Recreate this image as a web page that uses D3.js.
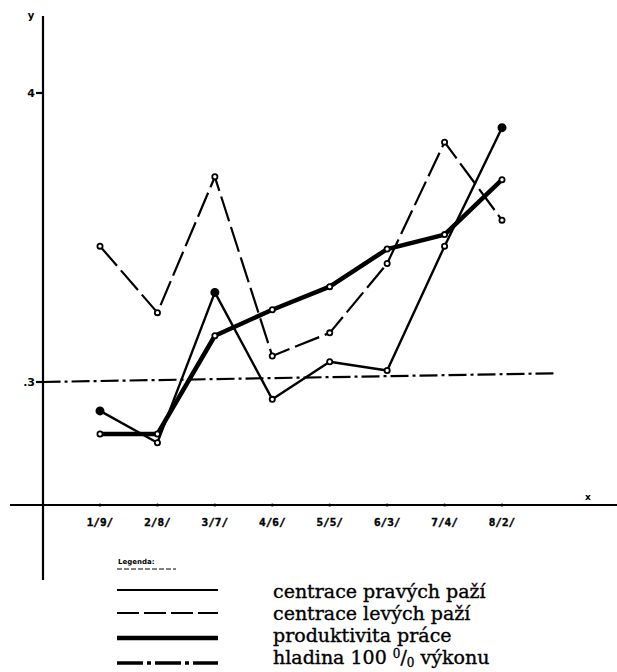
<!DOCTYPE html>
<html>
<head>
<meta charset="utf-8">
<script src="https://cdn.jsdelivr.net/npm/d3@7"></script>
<style>
	body { margin: 0; background: #fff; }
	svg { display: block; }
</style>
</head>
<body>
<div id="chart"></div>
<script>
// categories (x axis)
let categories = ["1/9/", "2/8/", "3/7/", "4/6/", "5/5/", "6/3/", "7/4/", "8/2/"];

// series values
let rightArms = [2.90, 2.79, 3.31, 2.94, 3.07, 3.04, 3.47, 3.88];
let leftArms = [3.47, 3.24, 3.71, 3.09, 3.17, 3.41, 3.83, 3.56];
let productivity = [2.82, 2.82, 3.16, 3.25, 3.33, 3.46, 3.51, 3.70];
// 100 % level, start (at y axis) and end
let levelLine = [3.00, 3.03];

// which points are drawn as full dots
let rightArmsFilled = [0, 2, 7];

let yTicks = [3, 4];
let legendLabels = [
	"centrace pravých paží",
	"centrace levých paží",
	"produktivita práce",
	"hladina 100 % výkonu"
];

let svg;
let x, y;

//
//	initD3
//
initD3 = function () {
	svg = d3.select("#chart").append("svg")
		.attr("width", 617)
		.attr("height", 672);

	svg.append("rect").attr("width", 617).attr("height", 672).attr("fill", "#fff");

	// index scale, category 0 .. 7
	x = d3.scaleLinear().domain([0, categories.length - 1]).range([100, 502]);
	y = d3.scaleLinear().domain([3, 4]).range([382, 93]);
};

//
//	drawAxes
//
drawAxes = function () {
	let axisX = 43;
	let axisY = 505;

	// y axis
	svg.append("line")
		.attr("x1", axisX).attr("x2", axisX)
		.attr("y1", 16).attr("y2", 580)
		.attr("stroke", "#000").attr("stroke-width", 2.2);
	svg.append("text").attr("x", 31).attr("y", 19)
		.attr("text-anchor", "middle")
		.attr("font-family", "DejaVu Sans").attr("font-weight", "bold").attr("font-size", 10)
		.text("y");

	yTicks.forEach((t) => {
		svg.append("line")
			.attr("x1", axisX - 7).attr("x2", axisX)
			.attr("y1", y(t)).attr("y2", y(t))
			.attr("stroke", "#000").attr("stroke-width", 2.2);
		svg.append("text")
			.attr("x", axisX - 8).attr("y", y(t) + 4)
			.attr("text-anchor", "end")
			.attr("font-family", "DejaVu Sans").attr("font-weight", "bold").attr("font-size", 11)
			.text(t == 3 ? ".3" : t);
	});

	// x axis
	svg.append("line")
		.attr("x1", 10).attr("x2", 617)
		.attr("y1", axisY).attr("y2", axisY)
		.attr("stroke", "#000").attr("stroke-width", 2);
	svg.append("text").attr("x", 588).attr("y", 500)
		.attr("text-anchor", "middle")
		.attr("font-family", "DejaVu Sans").attr("font-weight", "bold").attr("font-size", 9)
		.text("x");

	categories.forEach((c, i) => {
		svg.append("circle")
			.attr("cx", x(i)).attr("cy", axisY).attr("r", 1.6)
			.attr("fill", "#000");
		svg.append("text")
			.attr("x", x(i)).attr("y", axisY + 21)
			.attr("text-anchor", "middle")
			.attr("font-family", "DejaVu Sans Mono").attr("font-weight", "bold").attr("font-size", 11)
			.attr("stroke", "#000").attr("stroke-width", 0.4)
			.text(c);
	});
};

//
//	drawSeries
//
drawSeries = function (values, width, dash, filled) {
	let line = d3.line().x((d, i) => x(i)).y((d) => y(d));
	svg.append("path")
		.datum(values)
		.attr("d", line)
		.attr("fill", "none")
		.attr("stroke", "#000")
		.attr("stroke-width", width)
		.attr("stroke-dasharray", dash)
		.attr("stroke-linejoin", "round");

	svg.selectAll(null)
		.data(values)
		.enter()
		.append("circle")
		.attr("cx", (d, i) => x(i))
		.attr("cy", (d) => y(d))
		.attr("r", (d, i) => (filled.includes(i) ? 3.6 : 2.6))
		.attr("fill", (d, i) => (filled.includes(i) ? "#000" : "#fff"))
		.attr("stroke", "#000")
		.attr("stroke-width", 1.8);
};

//
//	drawLevel
//
drawLevel = function () {
	let xs = [-1, 7.9];
	svg.append("line")
		.attr("x1", x(xs[0])).attr("x2", x(xs[1]))
		.attr("y1", y(levelLine[0])).attr("y2", y(levelLine[1]))
		.attr("stroke", "#000")
		.attr("stroke-width", 2.2)
		.attr("stroke-dasharray", "18,4,3,4");
};

//
//	drawLegend
//
drawLegend = function () {
	svg.append("text").attr("x", 118).attr("y", 564)
		.attr("font-family", "DejaVu Sans").attr("font-weight", "bold").attr("font-size", 7)
		.text("Legenda:");
	svg.append("line")
		.attr("x1", 117).attr("x2", 176).attr("y1", 569).attr("y2", 569)
		.attr("stroke", "#000").attr("stroke-width", 1).attr("stroke-dasharray", "5,2");

	let styles = [
		{ w: 2, dash: null, y: 590 },
		{ w: 2, dash: "22,5", y: 613 },
		{ w: 4.5, dash: null, y: 638 },
		{ w: 3.5, dash: "26,4,4,4", y: 663 }
	];
	styles.forEach((s) => {
		svg.append("line")
			.attr("x1", 117).attr("x2", 218).attr("y1", s.y).attr("y2", s.y)
			.attr("stroke", "#000").attr("stroke-width", s.w)
			.attr("stroke-dasharray", s.dash);
	});

	legendLabels.forEach((t, i) => {
		let txt = svg.append("text")
			.attr("x", 273).attr("y", 598 + i * 22)
			.attr("font-family", "DejaVu Serif").attr("font-size", 19)
			.attr("fill", "#000").attr("stroke", "#000").attr("stroke-width", 0.35);
		if (t.includes("%")) {
			txt.append("tspan").text("hladina 100 ");
			txt.append("tspan").attr("font-size", 12).attr("dy", -6).text("0");
			txt.append("tspan").attr("font-size", 19).attr("dy", 6).text("/");
			txt.append("tspan").attr("font-size", 12).attr("dy", 3).text("0");
			txt.append("tspan").attr("font-size", 19).attr("dy", -3).text(" výkonu");
		} else {
			txt.text(t);
		}
	});
};

initD3();
drawAxes();
drawLevel();
drawSeries(leftArms, 2.2, "26,6", []);
drawSeries(rightArms, 2.4, null, rightArmsFilled);
drawSeries(productivity, 4.5, null, []);
drawLegend();
</script>
</body>
</html>
